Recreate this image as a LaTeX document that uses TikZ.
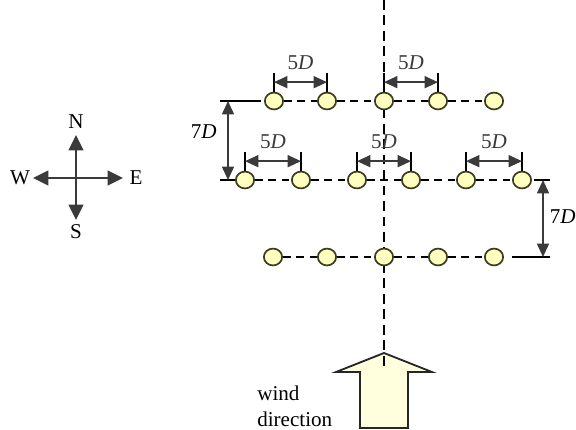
\documentclass[tikz,border=0pt]{standalone}
\usepackage{fontspec}
\setmainfont{Liberation Serif}
\usetikzlibrary{arrows.meta,shapes.geometric}
\definecolor{TurbineFill}{RGB}{255,255,190}
\definecolor{TurbineEdge}{RGB}{60,60,35}
\definecolor{WindFill}{RGB}{255,255,222}
\definecolor{ArrowGray}{RGB}{58,58,58}
\tikzset{
  turbine/.style={ellipse,draw=TurbineEdge,fill=TurbineFill,line width=1.2pt,minimum width=13pt,minimum height=12pt,inner sep=0pt},
  rowline/.style={dash pattern=on 5.5pt off 4pt,line width=0.9pt},
  centerline/.style={dash pattern=on 7pt off 4pt,line width=0.9pt},
  extline/.style={line width=1pt},
  dimarrow/.style={{Triangle[length=9.5pt,width=8.5pt]}-{Triangle[length=9.5pt,width=8.5pt]},ArrowGray,line width=1.2pt},
  compass/.style={-{Triangle[length=11pt,width=10.5pt]},ArrowGray,line width=1.3pt},
  lbl/.style={font=\fontsize{15}{18}\selectfont,inner sep=0pt}
}

\begin{document}
\begin{tikzpicture}[x=0.25mm,y=-0.25mm]
\useasboundingbox (0,0) rectangle (576,429);
% compass
\coordinate (cc) at (76,178);
\coordinate (cN) at (76,135);\coordinate (cS) at (76,220);
\coordinate (cW) at (33,178);\coordinate (cE) at (123,178);
\draw[compass] (cc)--(cN);\draw[compass] (cc)--(cS);
\draw[compass] (cc)--(cW);\draw[compass] (cc)--(cE);
\node[lbl] (N) at (76,122){N};
\node[lbl] (S) at (76,232){S};
\node[lbl] (W) at (20,178){W};
\node[lbl] (E) at (136,178){E};
% wind arrow and centre line
\draw[line width=1.3pt,draw=black!85,fill=WindFill] (360,428)--(360,372)--(336,372)--(384,353)--(432,372)--(408,372)--(408,428)--cycle;
\coordinate (vt) at (384,0);\coordinate (vb) at (384,368);
\draw[centerline] (vt)--(vb);
\node[lbl,align=left,anchor=north west] (wind) at (257,386){wind\\direction};
% turbine rows
\foreach \x [count=\i] in {274,327,384,438,494} \node[turbine] (a\i) at (\x,101){};
\foreach \x [count=\i] in {245,301,357,411,466,522} \node[turbine] (b\i) at (\x,180){};
\foreach \x [count=\i] in {273,327,384,438,494} \node[turbine] (c\i) at (\x,257){};
\draw[rowline] (a1)--(a2)--(a3)--(a4)--(a5);
\draw[rowline] (b1)--(b2)--(b3)--(b4)--(b5)--(b6);
\draw[rowline] (c1)--(c2)--(c3)--(c4)--(c5);
% 5D spacings
\foreach \p/\q in {a1/a2,a3/a4,b1/b2,b3/b4,b5/b6}{
  \draw[extline] (\p.north)--([yshift=13.5pt]\p.north);
  \draw[extline] (\q.north)--([yshift=13.5pt]\q.north);
  \draw[dimarrow] ([yshift=6.8pt]\p.north)--node[lbl,above=8.5pt]{5\textit{D}}([yshift=6.8pt]\q.north);
}
% 7D spacings
\coordinate (eA) at (220,101);\coordinate (eB) at (220,180);
\coordinate (fB) at (550,180);\coordinate (fC) at (550,257);
\draw[extline,shorten >=2.5pt] (eA)--(a1);
\draw[extline] (eB)--(b1);
\draw[extline,shorten <=1.5pt] (b6)--(fB);
\draw[extline,shorten <=5.5pt] (c5)--(fC);
\coordinate (dA) at (228,101);\coordinate (dB) at (228,180);
\coordinate (dC) at (543,180);\coordinate (dD) at (543,257);
\draw[dimarrow] (dA)--(dB);
\draw[dimarrow] (dC)--(dD);
\node[lbl,anchor=east] (lft) at (217,132){7\textit{D}};
\node[lbl,anchor=east] (rgt) at (576,217){7\textit{D}};
\end{tikzpicture}
\end{document}
